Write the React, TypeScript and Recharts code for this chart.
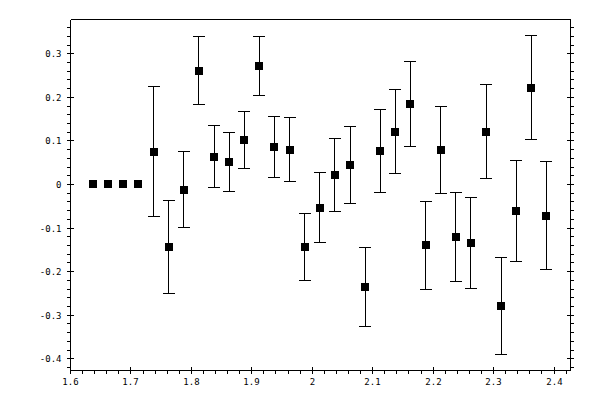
import React from "react";
import { ScatterChart, Scatter, XAxis, YAxis, ErrorBar } from "recharts";

const xValues = [
  1.6375, 1.6625, 1.6875, 1.7125, 1.7375, 1.7625, 1.7875, 1.8125, 1.8375, 1.8625,
  1.8875, 1.9125, 1.9375, 1.9625, 1.9875, 2.0125, 2.0375, 2.0625, 2.0875, 2.1125,
  2.1375, 2.1625, 2.1875, 2.2125, 2.2375, 2.2625, 2.2875, 2.3125, 2.3375, 2.3625,
  2.3875,
];
const yValues = [
  0, 0, 0, 0, 0.075, -0.144, -0.012, 0.261, 0.064, 0.052,
  0.102, 0.272, 0.086, 0.08, -0.143, -0.053, 0.022, 0.045, -0.235, 0.077,
  0.121, 0.185, -0.14, 0.08, -0.12, -0.134, 0.121, -0.279, -0.06, 0.222,
  -0.072,
];
const yErrors = [
  0, 0, 0, 0, 0.149, 0.107, 0.087, 0.078, 0.071, 0.067,
  0.066, 0.067, 0.07, 0.073, 0.077, 0.081, 0.084, 0.088, 0.091, 0.096,
  0.096, 0.097, 0.1, 0.1, 0.102, 0.104, 0.108, 0.111, 0.116, 0.119,
  0.124,
];

const xMajorTicks = [1.6, 1.7, 1.8, 1.9, 2.0, 2.1, 2.2, 2.3, 2.4];
const yMajorTicks = [-0.4, -0.3, -0.2, -0.1, 0, 0.1, 0.2, 0.3];
const xDomain = [1.6, 2.4273];
const yDomain = [-0.4269, 0.3787];

const data = xValues.map((x, i) => ({ x, y: yValues[i], err: yErrors[i] }));

function minorTicks(lo: number, hi: number, step: number) {
  const out: number[] = [];
  const start = Math.ceil(lo / step - 1e-9);
  const end = Math.floor(hi / step + 1e-9);
  for (let k = start; k <= end; k++) out.push(Number((k * step).toFixed(4)));
  return out;
}
const xAllTicks = minorTicks(xDomain[0], xDomain[1], 0.02);
const yAllTicks = minorTicks(yDomain[0], yDomain[1], 0.02);

const isMajor = (v: number) => Math.abs(v * 10 - Math.round(v * 10)) < 1e-6;
const fmt = (v: number) => (Math.abs(v) < 1e-9 ? "0" : String(Number(v.toFixed(1))));
const crisp = (c: number) => Math.round(c - 0.5) + 0.5;
const FONT = "DejaVu Sans Mono";
const FS = 9;

const BottomTick = (props: any) => {
  const { x, y, payload } = props;
  const v = payload.value;
  const cx = crisp(x);
  const maj = isMajor(v);
  return (
    <g>
      <line x1={cx} x2={cx} y1={maj ? y - 4 : y} y2={y + 3} stroke="#000" strokeWidth={1} />
      {maj && (
        <text x={cx} y={y + 14} textAnchor="middle" fontFamily={FONT} fontSize={FS} fill="#000">
          {fmt(v)}
        </text>
      )}
    </g>
  );
};

const TopTick = (props: any) => {
  const { x, y, payload } = props;
  const v = payload.value;
  const cx = crisp(x);
  const maj = isMajor(v);
  return <line x1={cx} x2={cx} y1={y - 3} y2={maj ? y + 4 : y} stroke="#000" strokeWidth={1} />;
};

const LeftTick = (props: any) => {
  const { x, y, payload } = props;
  const v = payload.value;
  const cy = crisp(y);
  const maj = isMajor(v);
  return (
    <g>
      <line x1={x - 4} x2={maj ? x + 3 : x} y1={cy} y2={cy} stroke="#000" strokeWidth={1} />
      {maj && (
        <text x={x - 9} y={cy + 3} textAnchor="end" fontFamily={FONT} fontSize={FS} fill="#000">
          {fmt(v)}
        </text>
      )}
    </g>
  );
};

const RightTick = (props: any) => {
  const { x, y, payload } = props;
  const v = payload.value;
  const cy = crisp(y);
  const maj = isMajor(v);
  return <line x1={maj ? x - 4 : x} x2={x + 3} y1={cy} y2={cy} stroke="#000" strokeWidth={1} />;
};

const SquareShape = (props: any) => {
  const { cx, cy } = props;
  if (cx == null || cy == null) return null;
  return <rect x={Math.round(cx) - 4} y={Math.round(cy) - 4} width={8} height={8} fill="#000" />;
};

export default function App() {
  return (
    <div
      style={{
        position: "absolute",
        left: 0,
        top: 0,
        width: 600,
        height: 400,
        background: "#fff",
        shapeRendering: "crispEdges",
      } as any}
    >
      <ScatterChart width={600} height={400} margin={{ top: 0, right: 0, bottom: 0, left: 0 }}>
        <XAxis
          xAxisId="b"
          type="number"
          dataKey="x"
          orientation="bottom"
          domain={xDomain}
          allowDataOverflow
          ticks={xAllTicks}
          interval={0}
          tickSize={0}
          tickMargin={0}
          tickLine={false}
          tick={<BottomTick />}
          height={29.5}
          axisLine={{ stroke: "#000", strokeWidth: 1 }}
        />
        <XAxis
          xAxisId="t"
          type="number"
          orientation="top"
          domain={xDomain}
          allowDataOverflow
          ticks={xAllTicks}
          interval={0}
          tickSize={0}
          tickMargin={0}
          tickLine={false}
          tick={<TopTick />}
          height={19.5}
          axisLine={{ stroke: "#000", strokeWidth: 1 }}
        />
        <YAxis
          yAxisId="l"
          type="number"
          dataKey="y"
          orientation="left"
          domain={yDomain}
          allowDataOverflow
          ticks={yAllTicks}
          interval={0}
          tickSize={0}
          tickMargin={0}
          tickLine={false}
          tick={<LeftTick />}
          width={70.5}
          axisLine={{ stroke: "#000", strokeWidth: 1 }}
        />
        <YAxis
          yAxisId="r"
          type="number"
          orientation="right"
          domain={yDomain}
          allowDataOverflow
          ticks={yAllTicks}
          interval={0}
          tickSize={0}
          tickMargin={0}
          tickLine={false}
          tick={<RightTick />}
          width={29.5}
          axisLine={{ stroke: "#000", strokeWidth: 1 }}
        />
        <Scatter
          data={data}
          xAxisId="b"
          yAxisId="l"
          fill="#000"
          shape={<SquareShape />}
          isAnimationActive={false}
        >
          <ErrorBar dataKey="err" direction="y" width={6} stroke="#000" strokeWidth={1} isAnimationActive={false} />
        </Scatter>
      </ScatterChart>
    </div>
  );
}
